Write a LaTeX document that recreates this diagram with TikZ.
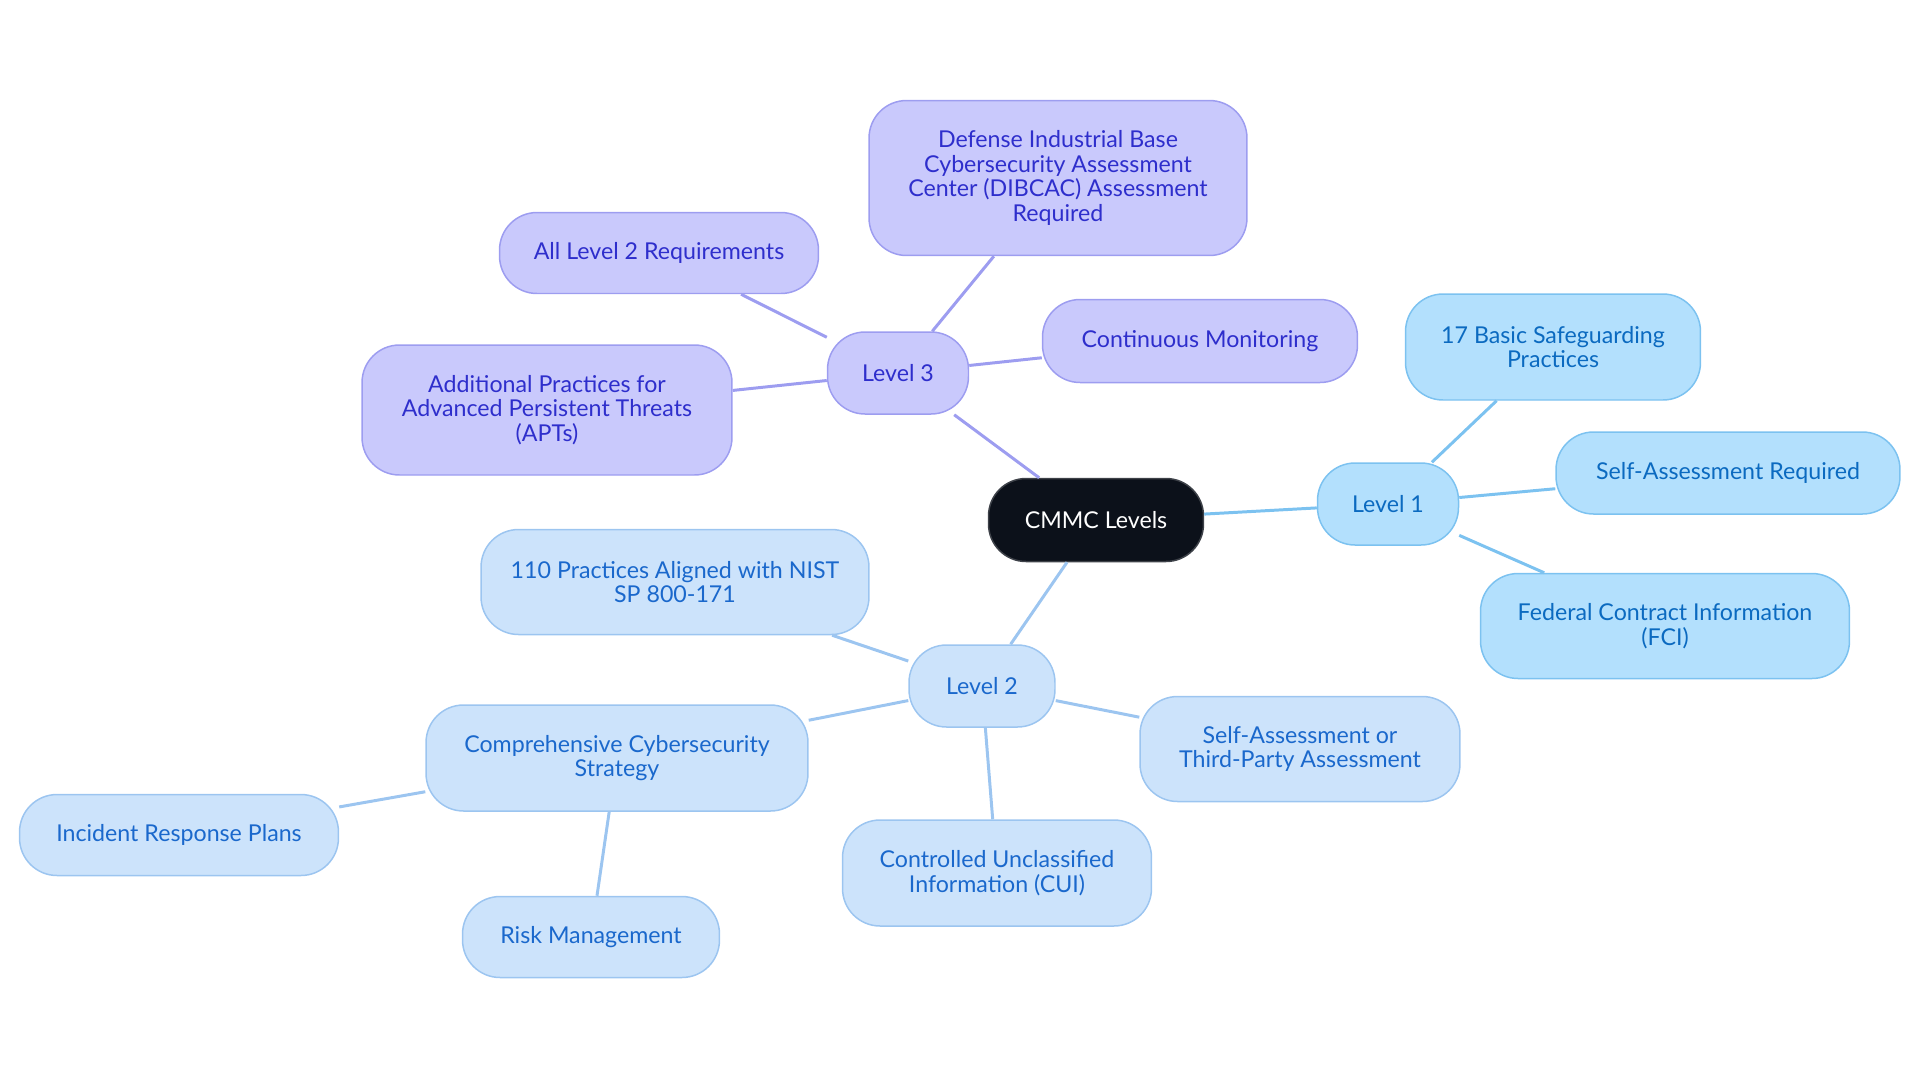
\documentclass[tikz,border=0pt]{standalone}
\usepackage{fontspec}
\setmainfont{Lato}
\usepackage{tikz}

\definecolor{rootfill}{HTML}{0C111A}
\definecolor{onefill}{HTML}{B3E0FD}
\definecolor{onedraw}{HTML}{7CC2F0}
\definecolor{onetext}{HTML}{0B6AC0}
\definecolor{twofill}{HTML}{CCE3FB}
\definecolor{twodraw}{HTML}{9CC5F0}
\definecolor{twotext}{HTML}{1A68CC}
\definecolor{threefill}{HTML}{C9C9FC}
\definecolor{threedraw}{HTML}{9D9DF0}
\definecolor{threetext}{HTML}{2E2ECC}

\tikzset{
  box/.style={rounded corners=0.75cm, line width=0.85pt, align=center,
    inner sep=0pt, font=\fontsize{13.2}{13.9}\selectfont},
  rootbox/.style={box, fill=rootfill, draw=rootfill!80!white, text=white},
  lone/.style={box, fill=onefill, draw=onedraw, text=onetext},
  ltwo/.style={box, fill=twofill, draw=twodraw, text=twotext},
  lthree/.style={box, fill=threefill, draw=threedraw, text=threetext},
  eone/.style={draw=onedraw, line width=1.7pt},
  etwo/.style={draw=twodraw, line width=1.7pt},
  ethree/.style={draw=threedraw, line width=1.7pt},
}

\begin{document}
\begin{tikzpicture}[x=0.02cm,y=-0.02cm]
		\useasboundingbox (0,0) rectangle (1920,1083);
		% centre
		\node[rootbox, minimum width=4.3cm, minimum height=1.66cm] (root) at (1096,520) {CMMC Levels};
		
		% level 1
		\node[lone, minimum width=2.82cm, minimum height=1.64cm] (lvlone) at (1388,504) {Level 1};
		\node[lone, minimum width=5.9cm, minimum height=2.12cm] (basic) at (1553,347) {17 Basic Safeguarding\\Practices};
		\node[lone, minimum width=6.88cm, minimum height=1.64cm] (selfreq) at (1728,473) {Self-Assessment Required};
		\node[lone, minimum width=7.38cm, minimum height=2.1cm] (fci) at (1665,626) {Federal Contract Information\\(FCI)};
		
		% level 2
		\node[ltwo, minimum width=2.92cm, minimum height=1.64cm] (lvltwo) at (982,686) {Level 2};
		\node[ltwo, minimum width=7.76cm, minimum height=2.1cm] (nist) at (675,582) {110 Practices Aligned with NIST\\SP 800-171};
		\node[ltwo, minimum width=7.64cm, minimum height=2.12cm] (strategy) at (617,758) {Comprehensive Cybersecurity\\Strategy};
		\node[ltwo, minimum width=6.38cm, minimum height=1.62cm] (incident) at (179,835) {Incident Response Plans};
		\node[ltwo, minimum width=5.14cm, minimum height=1.62cm] (risk) at (591,937) {Risk Management};
		\node[ltwo, minimum width=6.18cm, minimum height=2.12cm] (cui) at (997,873) {Controlled Unclassified\\Information (CUI)};
		\node[ltwo, minimum width=6.4cm, minimum height=2.1cm] (thirdparty) at (1300,749) {Self-Assessment or\\Third-Party Assessment};
		
		% level 3
		\node[lthree, minimum width=2.82cm, minimum height=1.64cm] (lvlthree) at (898,373) {Level 3};
		\node[lthree, minimum width=7.56cm, minimum height=3.1cm] (dibcac) at (1058,178) {Defense Industrial Base\\Cybersecurity Assessment\\Center (DIBCAC) Assessment\\Required};
		\node[lthree, minimum width=6.38cm, minimum height=1.62cm] (alllvl) at (659,253) {All Level 2 Requirements};
		\node[lthree, minimum width=7.4cm, minimum height=2.6cm] (apt) at (547,410) {Additional Practices for\\Advanced Persistent Threats\\(APTs)};
		\node[lthree, minimum width=6.3cm, minimum height=1.66cm] (monitor) at (1200,341) {Continuous Monitoring};
		
		\draw[eone] (root)--(lvlone);
		\draw[eone] (lvlone)--(basic);
		\draw[eone] (lvlone)--(selfreq);
		\draw[eone] (lvlone)--(fci);
		
		\draw[etwo] (root)--(lvltwo);
		\draw[etwo] (lvltwo)--(nist);
		\draw[etwo] (lvltwo)--(strategy);
		\draw[etwo] (strategy)--(incident);
		\draw[etwo] (strategy)--(risk);
		\draw[etwo] (lvltwo)--(cui);
		\draw[etwo] (lvltwo)--(thirdparty);
		
		\draw[ethree] (root)--(lvlthree);
		\draw[ethree] (lvlthree)--(dibcac);
		\draw[ethree] (lvlthree)--(alllvl);
		\draw[ethree] (lvlthree)--(apt);
		\draw[ethree] (lvlthree)--(monitor);
\end{tikzpicture}
\end{document}
